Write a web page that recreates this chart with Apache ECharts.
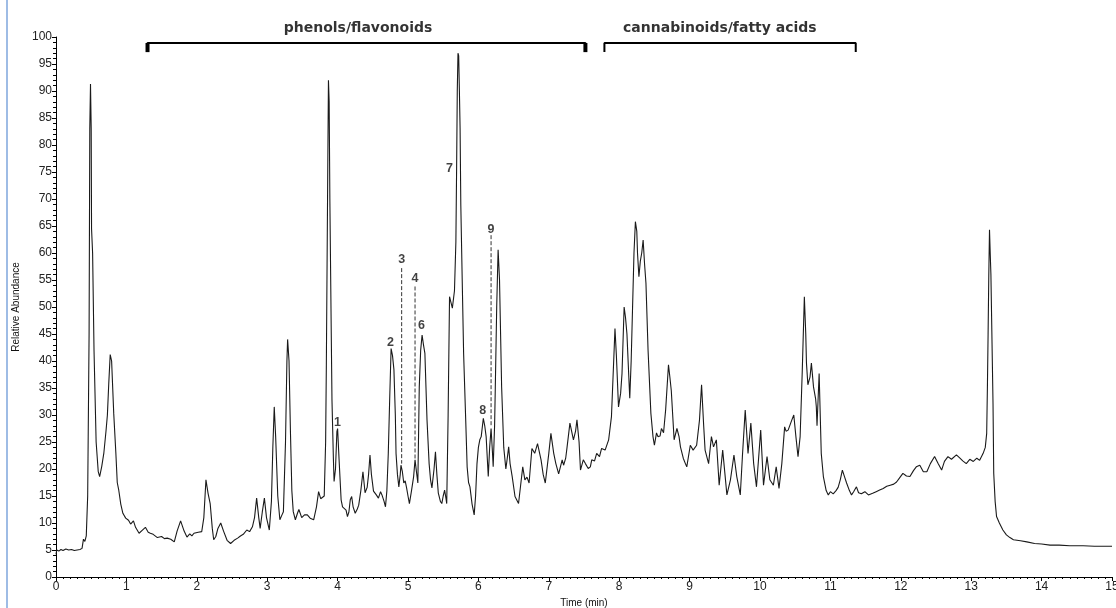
<!DOCTYPE html>
<html>
<head>
<meta charset="utf-8">
<script src="https://cdn.jsdelivr.net/npm/echarts@6/dist/echarts.min.js"></script>
<style>
  html, body { margin: 0; padding: 0; background: #fff; }
  #chart { width: 1116px; height: 608px; }
</style>
</head>
<body>
<div id="chart"></div>
<script>
// Total ion chromatogram: retention time (min) vs relative abundance (%)
const timeMin = [
  0.00,0.01,0.04,0.07,0.10,0.14,0.18,0.22,0.26,0.30,0.34,0.37,0.39,0.41,0.43,0.45,0.47,0.48,0.49,0.50,
  0.505,0.52,0.54,0.57,0.60,0.62,0.65,0.68,0.71,0.73,0.75,0.77,0.79,0.82,0.85,0.87,0.89,0.92,0.95,0.99,
  1.03,1.06,1.10,1.13,1.18,1.22,1.27,1.31,1.34,1.38,1.44,1.50,1.54,1.58,1.63,1.68,1.72,1.77,1.82,1.86,
  1.90,1.93,1.96,2.02,2.07,2.10,2.13,2.16,2.19,2.22,2.24,2.27,2.30,2.34,2.38,2.43,2.48,2.53,2.58,2.62,
  2.66,2.71,2.75,2.79,2.82,2.85,2.88,2.90,2.93,2.96,2.99,3.03,3.06,3.08,3.10,3.12,3.15,3.18,3.21,3.23,
  3.26,3.28,3.29,3.31,3.33,3.35,3.37,3.40,3.43,3.45,3.49,3.53,3.57,3.61,3.66,3.70,3.73,3.76,3.78,3.81,
  3.83,3.84,3.86,3.87,3.88,3.89,3.91,3.92,3.94,3.95,3.97,3.99,4.00,4.02,4.05,4.07,4.09,4.12,4.14,4.16,
  4.18,4.20,4.22,4.25,4.28,4.30,4.33,4.36,4.39,4.42,4.44,4.46,4.48,4.51,4.55,4.58,4.61,4.63,4.66,4.68,
  4.70,4.72,4.74,4.76,4.78,4.80,4.82,4.83,4.85,4.87,4.89,4.90,4.92,4.94,4.96,4.98,5.00,5.02,5.05,5.08,
  5.10,5.12,5.14,5.16,5.18,5.20,5.22,5.24,5.27,5.30,5.32,5.34,5.37,5.39,5.41,5.43,5.46,5.48,5.50,5.52,
  5.54,5.55,5.57,5.59,5.61,5.63,5.66,5.68,5.69,5.70,5.71,5.72,5.73,5.74,5.75,5.77,5.79,5.82,5.84,5.86,
  5.88,5.91,5.94,5.96,5.98,6.00,6.02,6.04,6.07,6.09,6.11,6.14,6.16,6.18,6.20,6.21,6.23,6.24,6.26,6.28,
  6.30,6.33,6.36,6.39,6.41,6.43,6.45,6.48,6.52,6.57,6.60,6.63,6.66,6.69,6.72,6.76,6.80,6.84,6.89,6.92,
  6.95,7.00,7.03,7.07,7.10,7.14,7.19,7.21,7.24,7.26,7.30,7.35,7.38,7.40,7.43,7.45,7.49,7.52,7.56,7.59,
  7.61,7.65,7.68,7.72,7.75,7.80,7.85,7.89,7.93,7.94,7.96,7.99,8.02,8.04,8.07,8.09,8.11,8.13,8.15,8.17,
  8.19,8.21,8.23,8.25,8.26,8.28,8.30,8.32,8.34,8.36,8.38,8.41,8.45,8.48,8.50,8.53,8.55,8.58,8.60,8.63,
  8.66,8.70,8.72,8.74,8.78,8.82,8.85,8.87,8.91,8.94,8.96,9.01,9.05,9.10,9.14,9.17,9.20,9.22,9.27,9.31,
  9.34,9.38,9.42,9.47,9.53,9.58,9.63,9.67,9.72,9.75,9.79,9.83,9.87,9.91,9.95,10.01,10.05,10.10,10.14,10.19,
  10.23,10.27,10.31,10.35,10.37,10.40,10.45,10.48,10.51,10.54,10.57,10.60,10.63,10.65,10.66,10.68,10.71,10.73,10.76,10.79,
  10.80,10.81,10.84,10.87,10.90,10.94,10.97,11.00,11.04,11.08,11.11,11.14,11.17,11.20,11.23,11.27,11.30,11.33,11.37,11.40,
  11.44,11.49,11.54,11.56,11.60,11.65,11.70,11.75,11.80,11.85,11.90,11.94,11.98,12.03,12.08,12.13,12.18,12.22,12.27,12.32,
  12.37,12.42,12.48,12.53,12.58,12.62,12.67,12.72,12.79,12.84,12.88,12.93,12.98,13.03,13.08,13.12,13.17,13.20,13.22,13.23,
  13.24,13.25,13.26,13.27,13.28,13.30,13.31,13.32,13.34,13.36,13.40,13.45,13.50,13.55,13.60,13.70,13.79,13.90,14.00,14.12,
  14.25,14.40,14.59,14.75,14.90,15.00
];

const abundance = [
  4.2,5.0,4.8,5.1,4.9,5.2,5.0,5.1,4.9,5.0,5.1,5.3,7.0,6.6,7.6,15,45,83,91.3,83,
  64.5,60,42,25,19.5,18.6,20.5,23,27,30,36,41.2,40,30.3,23,17.5,16.2,13.5,11.8,10.9,
  10.5,9.8,10.4,9.2,8.1,8.6,9.2,8.3,8.1,7.9,7.3,7.5,7.1,7.2,7.0,6.5,8.5,10.4,8.5,7.4,
  8.0,7.6,8.1,8.3,8.4,11,18,15.5,13.6,9,6.9,7.5,9,10,8.5,6.8,6.2,6.8,7.2,7.6,
  7.9,8.7,8.4,9.3,11,14.6,11,9.0,12,14.6,11,8.7,14,24,31.5,26,15,10.6,11.5,12.1,
  25,40,44,40,27,16,12.1,10.6,11.8,12.5,11,11.5,11.5,10.9,10.6,13,15.8,14.5,14.3,15,
  25,39,75,92,88,70,45,32.8,22,17.7,20,26.9,27.5,22,14.3,13,12.7,12.4,11.2,12,
  14.3,14.9,13,11.8,12.6,13.3,16,19.5,15.6,16.6,19,22.6,19,15.9,15.2,14.6,15.8,15.2,14.0,13,
  16,22.9,33,42.3,41,38.4,30,22.9,19,16.7,19,20.7,19.5,17.4,17.8,16.5,15,13.6,16,18.6,
  21.7,19.5,17.4,35.2,42,44.8,43,41.4,29.1,21,18,16.5,20,23.2,19,15.6,14.0,13.6,15,16.1,
  14.5,13.6,30,51.9,52,49.8,53,62,75,90,97,96.5,90,83,69,55,41.4,29,20.4,17.5,
  16.7,13.5,11.5,15,21,24,25.4,26,29.4,28,26,18.6,24,27.5,23,20.4,28,35,50,60.6,
  55,35.2,24,20,22,24.1,21,18.6,14.9,13.6,17,20.4,18,18.5,17.4,23.8,22.9,24.7,21.7,19,
  17.4,22.9,26.6,22.9,21,19.1,21.7,20.7,22,24.1,28.5,25.4,27,29.1,25,19.8,21.7,21,20.1,20.4,
  21.7,21.5,22.9,22.3,23.8,23.5,25.4,29.7,42.7,46,41,31.5,34,37.7,50,48,45,39,33.1,40,
  50,60,65.8,64,60,55.6,58.5,60,62.4,58,54.4,42,30.3,26,24.4,26.7,26,26.1,27.5,26.7,
  31,39.3,37,34.5,25.4,27.5,26,24.1,22,21,20.4,24.4,23.5,24.4,29,35.6,28,23.5,21,26,
  24.1,25.4,17,23.5,15.2,18,22.6,18.6,15.2,22.3,30.9,22.9,28.5,21,16.7,27.2,17,22.3,18,17,
  20.4,16.4,21,27.8,27,27.2,29,30,26,22.3,26,38,51.9,45,39.6,35.6,37,39.6,35.2,33,
  31.5,28,37.7,22.9,18.6,16,15.2,15.8,15.4,16,16.6,18,19.8,18.6,17.4,16,15.2,15.8,16.7,15.6,
  15.4,15.8,15.2,14.9,15.5,15.8,16.1,16.4,16.8,17.0,17.2,17.6,18.3,19.2,18.7,18.6,19.7,20.4,20.7,19.5,
  19.5,21,22.3,21,19.8,21.4,22.3,21.8,22.6,22,21.5,21,21.8,21.4,22,21.6,22.9,24,26.6,35,
  45,56,64.3,60,56,40,32,19.2,14,11.2,10,8.7,7.8,7.3,6.9,6.7,6.5,6.2,6.1,5.9,
  5.9,5.8,5.8,5.7,5.7,5.7
];

// Numbered peak annotations: label text, position (time, height)
const peakIds = ['1', '2', '3', '4', '6', '7', '8', '9'];
const peakLabelTime = [4.00, 4.75, 4.91, 5.10, 5.19, 5.59, 6.06, 6.18];
const peakLabelHeight = [28.6, 43.5, 58.7, 55.2, 46.6, 75.6, 30.8, 64.4];

// Dashed leader lines for peaks 3, 4 and 9
const guideTime = [4.91, 5.10, 6.18];
const guideTop = [57.2, 53.8, 63.3];
const guideBottom = [21.0, 21.7, 27.8];

// Compound-class brackets above the trace
const groupNames = ['phenols/flavonoids', 'cannabinoids/fatty acids'];
const groupStart = [1.30, 7.79];
const groupEnd = [7.52, 11.36];
const groupTitleTime = [4.29, 9.43];
const groupThickEnds = [true, false];
const bracketLevel = 98.9;
const bracketFoot = 97.2;
const groupTitleLevel = 101.6;

const tickLabelsX = ['0','1','2','3','4','5','6','7','8','9','10','11','12','13','14','15'];

const chart = echarts.init(document.getElementById('chart'), null, { renderer: 'canvas' });
const FONT = 'Liberation Sans, Arial, sans-serif';

const trace = timeMin.map((t, i) => [t, abundance[i]]);

const series = [
  {
    name: 'TIC',
    type: 'line',
    data: trace,
    showSymbol: false,
    symbol: 'none',
    lineStyle: { color: '#1a1a1a', width: 1.1 },
    animation: false,
    z: 3
  },
  {
    name: 'peaks',
    type: 'scatter',
    data: peakIds.map((id, i) => ({ value: [peakLabelTime[i], peakLabelHeight[i]], name: id })),
    symbolSize: 0,
    clip: false,
    label: {
      show: true,
      position: 'inside',
      formatter: p => p.name,
      fontFamily: FONT,
      fontWeight: 'bold',
      fontSize: 12.5,
      color: '#111'
    },
    animation: false,
    z: 5
  }
];

guideTime.forEach((t, i) => {
  series.push({
    type: 'line',
    data: [[t, guideTop[i]], [t, guideBottom[i]]],
    symbol: 'none',
    lineStyle: { color: '#333', width: 1, type: [4, 2] },
    animation: false,
    silent: true,
    z: 4
  });
});

groupNames.forEach((name, i) => {
  series.push({
    type: 'line',
    data: [[groupStart[i], bracketFoot], [groupStart[i], bracketLevel], [groupEnd[i], bracketLevel], [groupEnd[i], bracketFoot]],
    symbol: 'none',
    clip: false,
    lineStyle: { color: '#000', width: 2 },
    animation: false,
    silent: true,
    z: 4
  });
  if (groupThickEnds[i]) {
    [groupStart[i], groupEnd[i]].forEach(x => {
      series.push({
        type: 'line',
        data: [[x, bracketFoot], [x, bracketLevel]],
        symbol: 'none',
        clip: false,
        lineStyle: { color: '#000', width: 4 },
        animation: false,
        silent: true,
        z: 4
      });
    });
  }
  series.push({
    type: 'scatter',
    data: [{ value: [groupTitleTime[i], groupTitleLevel], name: name }],
    symbolSize: 0,
    clip: false,
    label: {
      show: true,
      position: 'inside',
      formatter: p => p.name,
      fontFamily: 'DejaVu Sans, Liberation Sans, sans-serif',
      fontWeight: 'bold',
      fontSize: 14,
      color: '#000'
    },
    animation: false,
    silent: true
  });
});

chart.setOption({
  backgroundColor: '#fff',
  animation: false,
  grid: { left: 56, right: 4, top: 37, bottom: 31, containLabel: false, outerBoundsMode: 'none' },
  xAxis: {
    type: 'value',
    min: 0,
    max: 15,
    interval: 1,
    name: 'Time (min)',
    nameLocation: 'middle',
    nameGap: 19,
    nameTextStyle: { fontFamily: FONT, fontSize: 10, color: '#111' },
    axisLine: { show: true, onZero: false, lineStyle: { color: '#000', width: 1 } },
    axisTick: { show: true, length: 4, lineStyle: { color: '#000' } },
    minorTick: { show: true, splitNumber: 10, length: 2, lineStyle: { color: '#000' } },
    axisLabel: {
      fontFamily: FONT, fontSize: 12, color: '#222', margin: 4,
      formatter: v => tickLabelsX[Math.round(v)]
    },
    splitLine: { show: false }
  },
  yAxis: {
    type: 'value',
    min: 0,
    max: 100,
    interval: 5,
    name: 'Relative Abundance',
    nameLocation: 'middle',
    nameGap: 35,
    nameRotate: 90,
    nameTextStyle: { fontFamily: FONT, fontSize: 10, color: '#111' },
    axisLine: { show: true, lineStyle: { color: '#000', width: 1 } },
    axisTick: { show: true, length: 4, lineStyle: { color: '#000' } },
    minorTick: { show: true, splitNumber: 5, length: 3, lineStyle: { color: '#000' } },
    axisLabel: { fontFamily: FONT, fontSize: 12, color: '#222', margin: 4 },
    splitLine: { show: false }
  },
  graphic: [
    {
      type: 'line',
      shape: { x1: 7, y1: 0, x2: 7, y2: 608 },
      style: { stroke: '#7ea6dc', lineWidth: 1.5 },
      silent: true
    }
  ],
  series: series
});
</script>
</body>
</html>
